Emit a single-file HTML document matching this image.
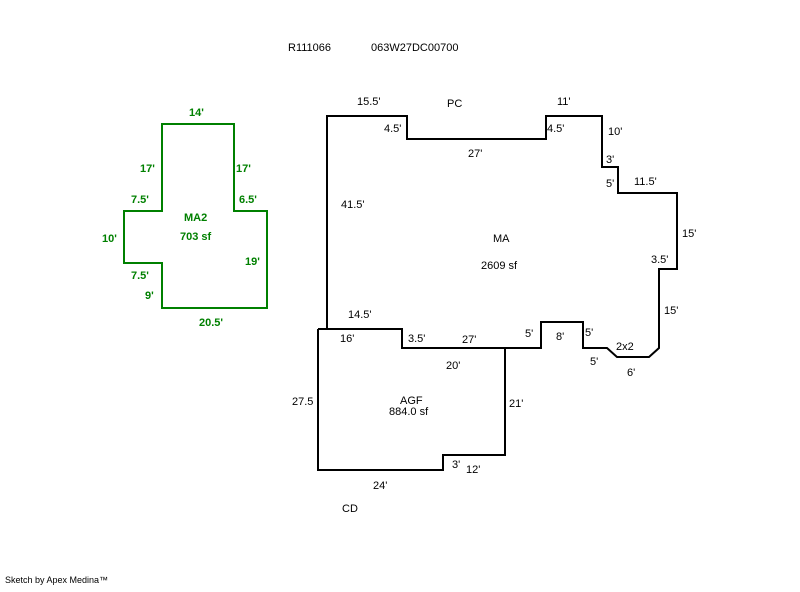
<!DOCTYPE html>
<html><head><style>
body{margin:0;background:#fff;width:800px;height:587px;overflow:hidden}
svg text{font-family:"Liberation Sans",sans-serif;font-size:11px}
.g text{fill:#008000;font-weight:bold}
</style></head><body>
<svg width="800" height="587" viewBox="0 0 800 587">
<g fill="none" stroke-width="2">
<polyline stroke="#000" points="327,329 327,116 407,116 407,139 546,139 546,116 602,116 602,167 618,167 618,193 677,193 677,269 659,269 659,348 649,357 617,357 607,348 583,348 583,322 541,322 541,348 402,348 402,329 318,329"/>
<polyline stroke="#000" points="318,329 318,470 443,470 443,455 505,455 505,348"/>
<polygon stroke="#008000" points="162,124 234,124 234,211 267,211 267,308 162,308 162,263 124,263 124,211 162,211"/>
</g>
<g>
<text x="288" y="51">R111066</text><text x="371" y="51">063W27DC00700</text>
<text x="357" y="105">15.5'</text><text x="447" y="107">PC</text><text x="557" y="105">11'</text>
<text x="384" y="132">4.5'</text><text x="547" y="132">4.5'</text><text x="608" y="135">10'</text>
<text x="468" y="157">27'</text><text x="606" y="163">3'</text><text x="606" y="187">5'</text><text x="634" y="185">11.5'</text>
<text x="341" y="208">41.5'</text><text x="682" y="237">15'</text>
<text x="493" y="242">MA</text><text x="481" y="269">2609 sf</text><text x="651" y="263">3.5'</text>
<text x="664" y="314">15'</text><text x="348" y="318">14.5'</text>
<text x="340" y="342">16'</text><text x="408" y="342">3.5'</text><text x="462" y="343">27'</text>
<text x="525" y="337">5'</text><text x="556" y="340">8'</text><text x="585" y="336">5'</text><text x="616" y="350">2x2</text>
<text x="590" y="365">5'</text><text x="627" y="376">6'</text><text x="446" y="369">20'</text>
<text x="292" y="405">27.5</text><text x="400" y="404">AGF</text><text x="389" y="415">884.0 sf</text>
<text x="509" y="407">21'</text><text x="452" y="468">3'</text><text x="466" y="473">12'</text>
<text x="373" y="489">24'</text><text x="342" y="512">CD</text>
<text x="5" y="583" style="font-size:9px">Sketch by Apex Medina™</text>
</g>
<g class="g">
<text x="189" y="116">14'</text><text x="140" y="172">17'</text><text x="236" y="172">17'</text>
<text x="131" y="203">7.5'</text><text x="239" y="203">6.5'</text>
<text x="184" y="221">MA2</text><text x="180" y="240">703 sf</text>
<text x="102" y="242">10'</text><text x="245" y="265">19'</text>
<text x="131" y="279">7.5'</text><text x="145" y="299">9'</text><text x="199" y="326">20.5'</text>
</g>
</svg>
</body></html>
